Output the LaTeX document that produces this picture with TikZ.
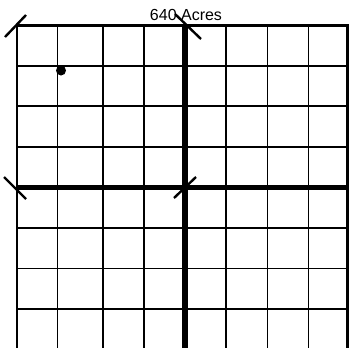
\documentclass[tikz,border=0pt]{standalone}
\usepackage{fontspec}
\setmainfont{Liberation Sans}
\begin{document}
\begin{tikzpicture}[x=1bp,y=-1bp,
  thinline/.style={line width=1.6bp,black},
  borderline/.style={line width=2.6bp,black},
  axisline/.style={line width=5.5bp,black},
  tickline/.style={line width=2.4bp,black}]
\useasboundingbox (0,0) rectangle (349,348);
\begin{scope}
\clip (0,0) rectangle (349,348);
% thin vertical grid lines
\foreach \x in {57.5,103,144,226,267.5,308.5}
  \draw[thinline] (\x,25) -- (\x,350);
% thin horizontal grid lines
\foreach \y in {65.8,106,147,227.7,268.3,309}
  \draw[thinline] (17,\y) -- (350,\y);
% borders
\draw[borderline] (17,350) -- (17,25.5) -- (350,25.5);
\draw[borderline] (347.7,25) -- (347.7,350);
% center axes
\draw[axisline] (185,25) -- (185,350);
\draw[axisline] (17,187.5) -- (350,187.5);
\end{scope}
% tick marks
\draw[tickline] (5,37) -- (26,15);
\draw[tickline] (175,14) -- (201,39);
\draw[tickline] (4,177) -- (26,199);
\draw[tickline] (174,198) -- (196,177);
% dot
\fill (61,70.5) circle (5bp);
\node[font=\fontsize{16bp}{18bp}\selectfont, inner sep=0pt, anchor=base] (title) at (186,20) {640 Acres};
\end{tikzpicture}
\end{document}
